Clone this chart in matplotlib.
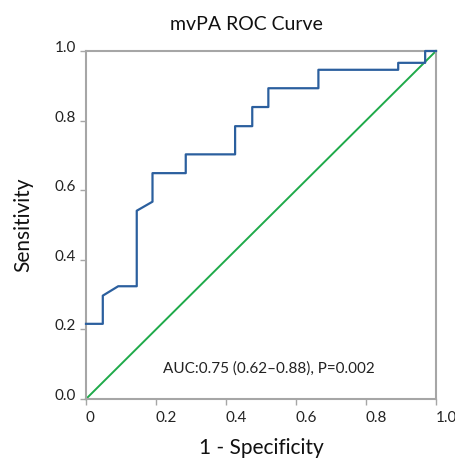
import matplotlib
matplotlib.use("Agg")
import matplotlib.pyplot as plt

plt.rcParams['font.family'] = ['Lato', 'DejaVu Sans']

# ROC curve (1 - specificity, sensitivity)
fpr = [0.0, 0.048, 0.048, 0.092, 0.145, 0.145, 0.19, 0.19, 0.285, 0.285,
       0.426, 0.426, 0.475, 0.475, 0.521, 0.521, 0.664, 0.664, 0.892, 0.892,
       0.969, 0.969, 1.0]
tpr = [0.216, 0.216, 0.297, 0.324, 0.324, 0.541, 0.567, 0.649, 0.649, 0.703,
       0.703, 0.784, 0.784, 0.839, 0.839, 0.893, 0.893, 0.946, 0.946, 0.966,
       0.966, 1.0, 1.0]
ref_line = [0.0, 1.0]
ticks = [0.0, 0.2, 0.4, 0.6, 0.8, 1.0]
xtick_labels = ['0', '0.2', '0.4', '0.6', '0.8', '1.0']
ytick_labels = ['0.0', '0.2', '0.4', '0.6', '0.8', '1.0']
note = 'AUC:0.75 (0.62\u20130.88), P=0.002'

fig = plt.figure(figsize=(4.55, 4.6), dpi=100)
ax = fig.add_axes([86/455, 60/460, 350/455, 348/460])

ax.plot(ref_line, ref_line, color='#1faa4a', lw=1.4, clip_on=False, zorder=2)
ax.plot(fpr, tpr, color='#2b5f9e', lw=1.6, clip_on=False, zorder=3)

ax.set_xlim(0, 1)
ax.set_ylim(0, 1)
for s in ax.spines.values():
    s.set_color('#a6a6a6')
    s.set_linewidth(1.5)

ax.set_xticks(ticks)
ax.set_xticklabels(xtick_labels, ha='left')
ax.set_yticks(ticks)
ax.set_yticklabels(ytick_labels, va='baseline')
ax.tick_params(direction='out', length=4, width=1, color='#a6a6a6',
               labelsize=11, labelcolor='#222222')
ax.tick_params(axis='x', pad=4)
ax.tick_params(axis='y', pad=3)

ax.text(0.22, 0.09, note, fontsize=11, color='#222222',
        transform=ax.transAxes, va='center')

fig.text(246/455, 1 - 25/460, 'mvPA ROC Curve', fontsize=14,
         ha='center', va='center', color='#111111')
fig.text(261/455, 1 - 448/460, '1 - Specificity', fontsize=15,
         ha='center', va='center', color='#111111')
fig.text(23/455, 1 - 225/460, 'Sensitivity', fontsize=15, rotation=90,
         ha='center', va='center', color='#111111')

fig.savefig('out.png', dpi=100)
